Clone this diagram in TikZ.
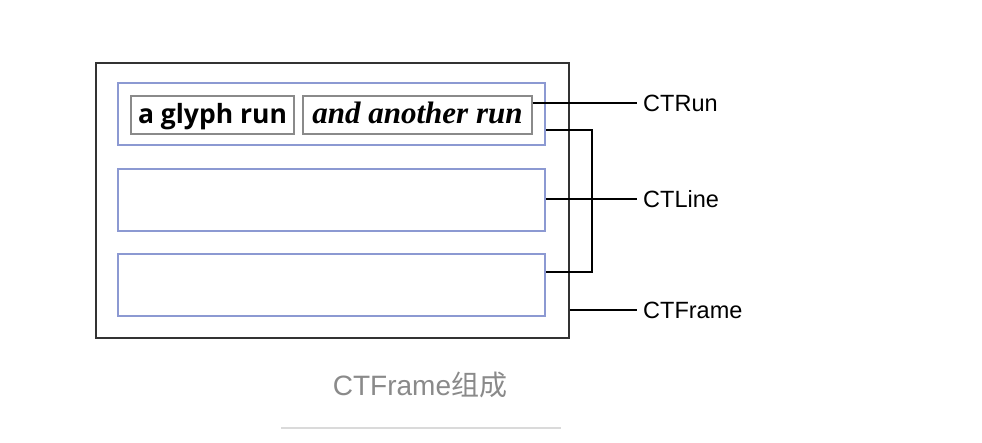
\documentclass[tikz,border=0pt]{standalone}
\usepackage{fontspec}
\setmainfont{Liberation Sans}
\newfontfamily\runsans{Open Sans}
\newfontfamily\runserif{Liberation Serif}
\newfontfamily\cjk{Noto Sans CJK SC}
\definecolor{linblue}{HTML}{8C99D2}
\definecolor{rungray}{HTML}{8A8A8A}
\definecolor{capgray}{HTML}{8A8A8A}
\definecolor{sepgray}{HTML}{DADADA}
\definecolor{framegray}{HTML}{333333}
\begin{document}
\begin{tikzpicture}[x=1pt,y=-1pt,
  framebox/.style={draw=framegray,line width=1.4pt,inner sep=0pt,rectangle},
  linebox/.style={draw=linblue,line width=2pt,inner sep=0pt,minimum width=427pt,minimum height=62pt},
  runbox/.style={draw=rungray,line width=1.2pt,inner sep=0pt,minimum height=38pt,text height=20pt,text depth=4pt},
  lbl/.style={anchor=west,inner sep=0pt,font=\fontsize{23.5}{23.5}\selectfont},
  conn/.style={draw=black,line width=1.6pt}]
\useasboundingbox[fill=white] (0,0) rectangle (982,442);
\node[framebox,minimum width=473pt,minimum height=275pt] (frame) at (332.5,200.5) {};
\node[linebox] (line1) at (331.5,114) {};
\node[linebox] (line2) at (331.5,199.5) {};
\node[linebox] (line3) at (331.5,285) {};
\node[runbox,minimum width=163pt,font=\runsans\bfseries\fontsize{26.5}{26.5}\selectfont] (run1) at (212.5,115) {a glyph run};
\node[runbox,minimum width=229pt,font=\runserif\bfseries\itshape\fontsize{31}{31}\selectfont] (run2) at (417.5,115) {and another run};
\node[lbl] (lrun) at (643,103) {CTRun};
\node[lbl] (lline) at (643,199) {CTLine};
\node[lbl] (lframe) at (643,310) {CTFrame};
\coordinate (brk) at (592,200);
\draw[conn] (lrun.west -| run2.east) -- ([xshift=-6pt]lrun.west);
\draw[conn] ([yshift=-16pt]line1.east) -| (brk) |- ([yshift=13pt]line3.east);
\draw[conn] (lline.west -| line2.east) -- ([xshift=-6pt]lline.west);
\draw[conn] (lframe.west -| frame.east) -- ([xshift=-6pt]lframe.west);
\node[text=capgray,font=\fontsize{28}{28}\selectfont] (cap) at (420,385) {CTFrame{\cjk 组成}};
\coordinate (sepL) at (281,428);
\coordinate (sepR) at (561,428);
\draw[sepgray,line width=1.5pt] (sepL) -- (sepR);
\end{tikzpicture}
\end{document}
